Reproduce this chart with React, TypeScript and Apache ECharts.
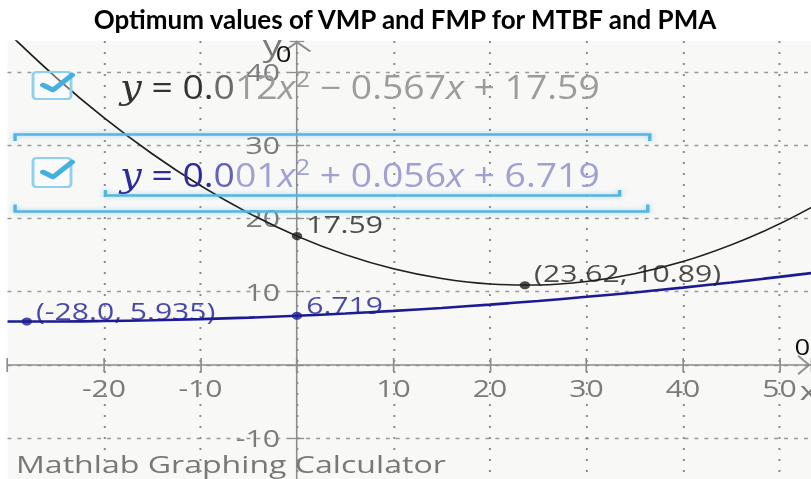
import React, { useEffect, useRef } from 'react';
import * as echarts from 'echarts';

// horizontal stretch of the original phone screenshot
const S = 1.31;
const PAGE_W = 811;
const PAGE_H = 479;
const W = PAGE_W / S;

const titleText = 'Optimum values of VMP and FMP for MTBF and PMA';
const footerText = 'Mathlab Graphing Calculator';

const sampleX = [-30, -25, -20, -15, -10, -5, 0, 5, 10, 15, 20, 25, 30, 35, 40, 45, 50, 55];
// black curve y = 0.012x² − 0.567x + 17.59
const curveBlack = [45.4, 39.27, 33.73, 28.8, 24.46, 20.73, 17.59, 15.06, 13.12, 11.79, 11.05, 10.92, 11.38, 12.45, 14.11, 16.38, 19.24, 22.71];
// blue curve y = 0.001x² + 0.056x + 6.719
const curveBlue = [5.94, 5.94, 6.0, 6.1, 6.26, 6.46, 6.72, 7.02, 7.38, 7.78, 8.24, 8.74, 9.3, 9.9, 10.56, 11.26, 12.02, 12.82];

const blackPointsX = [0, 23.62];
const blackPointsY = [17.59, 10.89];
const blackPointLabels = ['17.59', '(23.62, 10.89)'];

const bluePointsX = [-28.0, 0];
const bluePointsY = [5.935, 6.719];
const bluePointLabels = ['(-28.0, 5.935)', '6.719'];

const xTickLabels = ['-20', '-10', '10', '20', '30', '40', '50'];
const yTickLabels = ['40', '30', '20', '10', '-10'];

const X_MIN = -30;
const X_MAX = 53.27;
const Y_MIN = -20;
const Y_MAX = 44.2;
const STEP = 10;

const GRID_LEFT = 5.73;
const GRID_RIGHT = 0;
const GRID_TOP = 41;
const GRID_BOTTOM = -32.6;

const FONT = 'Open Sans';
const AXIS_GRAY = '#8d8d8d';
const LABEL_GRAY = '#7b7b7b';
const BLACK = '#1f1f1f';
const NAVY = '#1c1c92';

const chevron = 'path://M0,9 L10,0 L20,9 L18.6,10 L10,2.2 L1.4,10 Z';

function buildOption() {
  // place the axes through the origin by offsetting them from the grid edges
  const xPx = (W - GRID_LEFT - GRID_RIGHT) / (X_MAX - X_MIN);
  const yPx = (PAGE_H - GRID_TOP - GRID_BOTTOM) / (Y_MAX - Y_MIN);
  const yAxisOffset = -(0 - X_MIN) * xPx;
  const xAxisOffset = -(0 - Y_MIN) * yPx;

  const tickLine = { color: AXIS_GRAY, width: 1.3 };
  const xBase = { type: 'value', min: X_MIN, max: X_MAX, interval: STEP, position: 'bottom', offset: xAxisOffset };
  const yBase = { type: 'value', min: Y_MIN, max: Y_MAX, interval: STEP, position: 'left', offset: yAxisOffset };

  const row = (y: number, dark: string, mid: string, light: string, parts: string[]) => ({
    type: 'text',
    x: 91.6,
    y,
    scaleX: 0.89,
    z: 5,
    style: {
      text:
        `{yv|y}{d| = 0.}{m|0}{l|${parts[0]}}{lx|x}{sup|2}{l| ${parts[1]} ${parts[2]}}{lx|x}{l| ${parts[3]} ${parts[4]}}`,
      verticalAlign: 'middle',
      align: 'left',
      rich: {
        yv: { fontFamily: 'DejaVu Serif', fontStyle: 'italic', fontSize: 33, fill: dark, lineHeight: 40 },
        d: { fontFamily: FONT, fontSize: 32, fill: dark, lineHeight: 40 },
        m: { fontFamily: FONT, fontSize: 32, fill: mid, lineHeight: 40 },
        l: { fontFamily: FONT, fontSize: 32, fill: light, lineHeight: 40 },
        lx: { fontFamily: FONT, fontStyle: 'italic', fontSize: 32, fill: light, lineHeight: 40 },
        sup: { fontFamily: FONT, fontSize: 22, fill: light, lineHeight: 22, verticalAlign: 'top' },
      },
    },
  });

  const bracketStyle = {
    stroke: '#55b5e0',
    lineWidth: 2.6,
    fill: 'none',
    shadowBlur: 5,
    shadowColor: 'rgba(85,181,224,0.55)',
  };
  const boxStyle = { fill: 'rgba(255,255,255,0.35)', stroke: '#8fd0ee', lineWidth: 2.2 };
  const checkStyle = { stroke: '#45afe0', lineWidth: 4.5, fill: 'none', lineCap: 'round', lineJoin: 'round' };

  return {
    animation: false,
    backgroundColor: '#ffffff',
    grid: {
      show: true,
      left: GRID_LEFT,
      right: GRID_RIGHT,
      top: GRID_TOP,
      bottom: GRID_BOTTOM,
      containLabel: false,
      outerBoundsMode: 'none',
      backgroundColor: '#f8f8f7',
      borderWidth: 0,
    },
    xAxis: [
      {
        ...xBase,
        axisLine: {
          onZero: false,
          lineStyle: { color: AXIS_GRAY, width: 1.6 },
          symbol: ['none', chevron],
          symbolSize: [20, 10.7],
          symbolOffset: [0, -5.35],
        },
        axisTick: { show: true, length: 7, lineStyle: tickLine },
        axisLabel: {
          margin: 11,
          fontSize: 23,
          fontFamily: FONT,
          color: LABEL_GRAY,
          formatter: (v: number) => (xTickLabels.includes(String(v)) ? String(v) : ''),
        },
        splitLine: {
          show: true,
          showMinLine: false,
          showMaxLine: false,
          lineStyle: { color: '#8a8a8a', width: 1.5, type: [2, 9] },
        },
      },
      {
        ...xBase,
        axisLine: { show: false, onZero: false },
        axisTick: { show: true, inside: true, length: 7, lineStyle: tickLine },
        axisLabel: { show: false },
        splitLine: { show: false },
      },
    ],
    yAxis: [
      {
        ...yBase,
        axisLine: {
          onZero: false,
          lineStyle: { color: AXIS_GRAY, width: 1.2 },
          symbol: ['none', chevron],
          symbolSize: [23, 11],
          symbolOffset: [0, -5.5],
        },
        axisTick: { show: true, length: 5.5, lineStyle: tickLine },
        axisLabel: {
          margin: 13,
          fontSize: 23,
          fontFamily: FONT,
          color: LABEL_GRAY,
          formatter: (v: number) => (yTickLabels.includes(String(v)) ? String(v) : ''),
        },
        splitLine: {
          show: true,
          showMinLine: false,
          showMaxLine: false,
          lineStyle: { color: '#999999', width: 1.3, type: [3, 4.6] },
        },
      },
      {
        ...yBase,
        axisLine: { show: false, onZero: false },
        axisTick: { show: true, inside: true, length: 5.5, lineStyle: tickLine },
        axisLabel: { show: false },
        splitLine: { show: false },
      },
    ],
    series: [
      {
        type: 'line',
        name: 'black',
        data: sampleX.map((x, i) => [x, curveBlack[i]]),
        smooth: 0.35,
        showSymbol: false,
        silent: true,
        z: 3,
        lineStyle: { color: BLACK, width: 1.5 },
      },
      {
        type: 'line',
        name: 'blue',
        data: sampleX.map((x, i) => [x, curveBlue[i]]),
        smooth: 0.35,
        showSymbol: false,
        silent: true,
        z: 3,
        lineStyle: { color: NAVY, width: 2.6 },
      },
      {
        type: 'scatter',
        data: blackPointsX.map((x, i) => ({ value: [x, blackPointsY[i]], label: { formatter: blackPointLabels[i] } })),
        symbolSize: 8,
        z: 4,
        itemStyle: { color: BLACK },
        label: { show: true, position: 'right', distance: 3, offset: [0, -12], fontSize: 23, fontFamily: FONT, color: BLACK },
      },
      {
        type: 'scatter',
        data: bluePointsX.map((x, i) => ({ value: [x, bluePointsY[i]], label: { formatter: bluePointLabels[i] } })),
        symbolSize: 8,
        z: 4,
        itemStyle: { color: NAVY },
        label: { show: true, position: 'right', distance: 3, offset: [0, -11], fontSize: 23, fontFamily: FONT, color: NAVY },
      },
    ],
    graphic: [
      {
        type: 'text',
        x: 405 / S,
        y: 19,
        scaleX: 1 / S,
        z: 10,
        style: { text: titleText, fontSize: 26, fontWeight: 'bold', fontFamily: 'Lato', fill: '#000', align: 'center', verticalAlign: 'middle' },
      },
      {
        type: 'text',
        x: 12.2,
        y: 463,
        z: 10,
        style: { text: footerText, fontSize: 24.5, fontFamily: FONT, fill: '#787878', align: 'left', verticalAlign: 'middle' },
      },
      { type: 'text', x: 200.5, y: 45, z: 10, style: { text: 'y', fontSize: 29, fontFamily: FONT, fill: LABEL_GRAY, verticalAlign: 'middle' } },
      { type: 'text', x: 210.5, y: 54, z: 10, style: { text: '0', fontSize: 21, fontFamily: FONT, fill: '#111', verticalAlign: 'middle' } },
      { type: 'text', x: 606.5, y: 347, z: 10, style: { text: '0', fontSize: 21, fontFamily: FONT, fill: '#111', verticalAlign: 'middle' } },
      { type: 'text', x: 610.5, y: 390, z: 10, style: { text: 'x', fontSize: 26, fontFamily: FONT, fill: LABEL_GRAY, verticalAlign: 'middle' } },
      // equation list overlay
      { type: 'rect', z: 5, shape: { x: 25.2, y: 72, width: 29, height: 27, r: 3 }, style: boxStyle },
      { type: 'polyline', z: 6, shape: { points: [[32.8, 85], [40.5, 90], [55, 75]] }, style: checkStyle },
      { type: 'rect', z: 5, shape: { x: 25.2, y: 158, width: 29, height: 29, r: 3 }, style: boxStyle },
      { type: 'polyline', z: 6, shape: { points: [[32.8, 172], [40.5, 177], [55, 162]] }, style: checkStyle },
      { type: 'polyline', z: 5, shape: { points: [[11.5, 141], [11.5, 134.5], [496, 134.5], [496, 141]] }, style: bracketStyle },
      { type: 'polyline', z: 5, shape: { points: [[80.5, 190], [80.5, 195.5], [473, 195.5], [473, 190]] }, style: bracketStyle },
      { type: 'polyline', z: 5, shape: { points: [[11.5, 204.5], [11.5, 211.5], [494.5, 211.5], [494.5, 204.5]] }, style: bracketStyle },
      row(87, '#333333', '#6a6a6a', '#9c9c9c', ['12', '−', '0.567', '+', '17.59']),
      row(175, '#2b2b9c', '#6262b8', '#a0a0d4', ['01', '+', '0.056', '+', '6.719']),
    ],
  };
}

export default function App() {
  const ref = useRef<HTMLDivElement>(null);
  useEffect(() => {
    const el = ref.current;
    if (!el) return;
    const chart = echarts.init(el, undefined, { renderer: 'svg', width: W, height: PAGE_H });
    chart.setOption(buildOption() as any);
    return () => chart.dispose();
  }, []);
  return (
    <div
      style={{
        position: 'fixed',
        left: 0,
        top: 0,
        width: PAGE_W,
        height: PAGE_H,
        overflow: 'hidden',
        background: '#ffffff',
      }}
    >
      <div
        ref={ref}
        style={{ width: W, height: PAGE_H, transform: `scaleX(${S})`, transformOrigin: '0 0' }}
      />
    </div>
  );
}
